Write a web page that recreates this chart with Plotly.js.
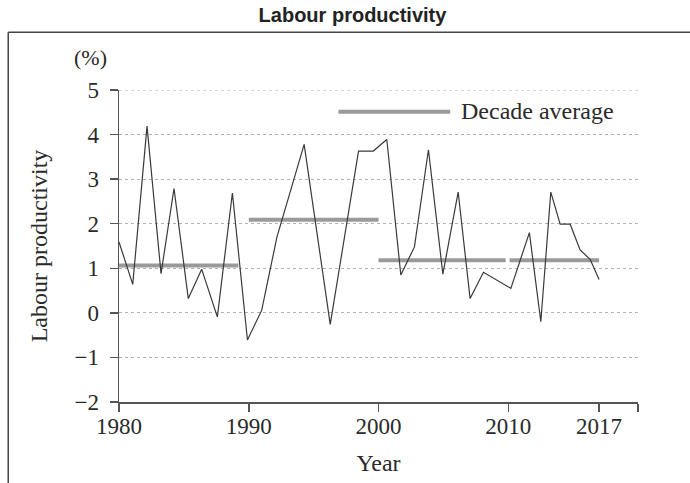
<!DOCTYPE html>
<html>
<head>
<meta charset="utf-8">
<script src="https://cdn.plot.ly/plotly-3.0.1.min.js"></script>
<style>html,body{margin:0;padding:0;background:#fff;}#chart{width:690px;height:483px;}</style>
</head>
<body>
<div id="chart"></div>
<script>
// Labour productivity (%), vertices of the line
const years = [1980.0, 1981.06, 1982.16, 1983.24, 1984.24, 1985.34, 1986.37, 1987.58, 1988.74, 1989.9,
  1991.0, 1992.17, 1994.27, 1996.28, 1998.46, 1999.6, 2000.64, 2001.72, 2002.77, 2003.85,
  2004.96, 2006.14, 2007.06, 2008.09, 2010.2, 2011.63, 2012.51, 2013.28, 2014.0, 2014.77,
  2015.54, 2016.31, 2017.0];
const productivity = [1.59, 0.64, 4.19, 0.88, 2.79, 0.32, 0.98, -0.09, 2.69, -0.61,
  0.06, 1.70, 3.78, -0.26, 3.63, 3.63, 3.89, 0.85, 1.48, 3.66,
  0.87, 2.71, 0.32, 0.91, 0.55, 1.80, -0.20, 2.71, 1.99, 1.99,
  1.41, 1.20, 0.75];

// Decade averages
const decadeStart = [1980, 1990, 2000, 2010.1];
const decadeEnd = [1989.2, 2000, 2009.8, 2017];
const decadeAvg = [1.06, 2.09, 1.18, 1.18];

const xTickVals = [1980, 1990, 2000, 2010, 2017, 2020];
const xTickText = ['1980', '1990', '2000', '2010', '2017', ''];
const yTickVals = [-2, -1, 0, 1, 2, 3, 4, 5];
const yMax = 5;

const serif = 'Liberation Serif, Times New Roman, serif';
const textColor = '#2a2a2a';
const gridColor = '#b0b0b0';

const traces = [];
for (let i = 0; i < decadeAvg.length; i++) {
  traces.push({
    x: [decadeStart[i], decadeEnd[i]],
    y: [decadeAvg[i], decadeAvg[i]],
    mode: 'lines',
    line: {color: '#9a9a9a', width: 4},
    showlegend: false,
    hoverinfo: 'skip'
  });
}
traces.push({
  x: years,
  y: productivity,
  mode: 'lines',
  line: {color: '#3a3a3a', width: 1.2},
  showlegend: false
});

// pixel -> paper helpers for decoration placement
const L = 119, R = 637.7, T = 90, B = 402.3;
const px = v => (v - L) / (R - L);
const py = v => (B - v) / (B - T);

const layout = {
  width: 690, height: 483,
  margin: {l: L, r: 690 - R, t: T, b: 483 - B, pad: 0},
  paper_bgcolor: '#fff', plot_bgcolor: '#fff',
  showlegend: false,
  title: {
    text: '<b>Labour productivity</b>',
    font: {family: 'Liberation Sans, Arial, sans-serif', size: 20, color: '#222'},
    x: 352.5 / 690, xanchor: 'center', xref: 'container',
    y: 1 - 15 / 483, yanchor: 'middle', yref: 'container'
  },
  xaxis: {
    range: [1980, 2020],
    tickmode: 'array', tickvals: xTickVals, ticktext: xTickText,
    showline: true, linecolor: '#555', linewidth: 1.5,
    ticks: 'outside', ticklen: 8, tickwidth: 1.5, tickcolor: '#555',
    showgrid: false, zeroline: false,
    ticklabelstandoff: -5,
    tickfont: {family: serif, size: 23, color: textColor},
    title: {text: 'Year', font: {family: serif, size: 24, color: textColor}, standoff: 16}
  },
  yaxis: {
    range: [-2, yMax],
    tickmode: 'array', tickvals: yTickVals,
    showline: true, linecolor: '#555', linewidth: 1.5,
    ticks: 'outside', ticklen: 8, tickwidth: 1.5, tickcolor: '#555',
    showgrid: true, gridcolor: gridColor, gridwidth: 1, griddash: 'dot',
    zeroline: false,
    ticklabelstandoff: 6,
    tickfont: {family: serif, size: 23, color: textColor},
    title: {text: 'Labour productivity', font: {family: serif, size: 24, color: textColor}, standoff: 20}
  },
  shapes: [
    // top gridline (Plotly omits the gridline on the range edge)
    {type: 'line', xref: 'paper', yref: 'y', x0: 0, x1: 1, y0: yMax, y1: yMax,
     line: {color: gridColor, width: 1, dash: 'dot'}, layer: 'below'},
    {type: 'line', xref: 'paper', yref: 'paper', x0: px(8.3), x1: px(700), y0: py(32.3), y1: py(32.3),
     line: {color: '#444', width: 1.5}},
    {type: 'line', xref: 'paper', yref: 'paper', x0: px(8.3), x1: px(8.3), y0: py(32.3), y1: py(495),
     line: {color: '#444', width: 1.5}},
    {type: 'line', xref: 'paper', yref: 'paper', x0: px(338.3), x1: px(450), y0: py(111.7), y1: py(111.7),
     line: {color: '#9a9a9a', width: 4}}
  ],
  annotations: [
    {text: '(%)', xref: 'paper', yref: 'paper', x: px(91), y: py(57), xanchor: 'center', yanchor: 'middle',
     showarrow: false, font: {family: serif, size: 22, color: textColor}},
    {text: 'Decade average', xref: 'paper', yref: 'paper', x: px(459), y: py(111), xanchor: 'left', yanchor: 'middle',
     showarrow: false, font: {family: serif, size: 24, color: textColor}}
  ]
};

Plotly.newPlot('chart', traces, layout, {displayModeBar: false, staticPlot: true});
</script>
</body>
</html>
